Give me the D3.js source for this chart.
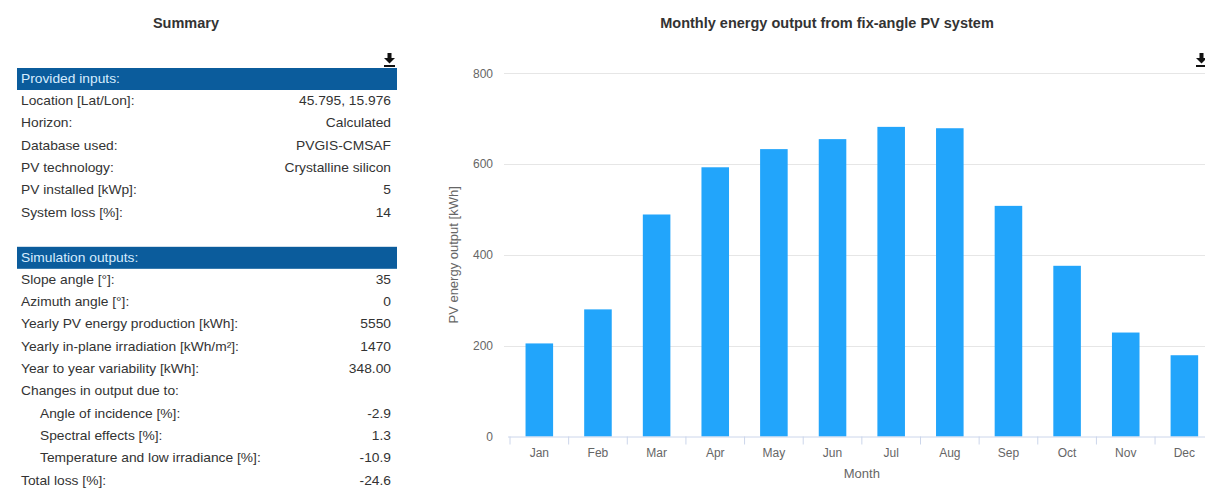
<!DOCTYPE html>
<html>
<head>
<meta charset="utf-8">
<script src="https://cdnjs.cloudflare.com/ajax/libs/d3/7.8.5/d3.min.js"></script>
<style>
  body { margin: 0; background: #fff; }
  text { font-family: "Liberation Sans", Arial, sans-serif; }
</style>
</head>
<body>
<div id="chart"></div>
<script>
// data
var months = ["Jan", "Feb", "Mar", "Apr", "May", "Jun", "Jul", "Aug", "Sep", "Oct", "Nov", "Dec"];
var energy = [205, 280, 489, 593, 633, 655, 682, 679, 508, 376, 229, 179];
var yTicks = [0, 200, 400, 600, 800];

var inputLabels = ["Location [Lat/Lon]:", "Horizon:", "Database used:", "PV technology:", "PV installed [kWp]:", "System loss [%]:"];
var inputValues = ["45.795, 15.976", "Calculated", "PVGIS-CMSAF", "Crystalline silicon", "5", "14"];

var outputLabels = ["Slope angle [\u00b0]:", "Azimuth angle [\u00b0]:", "Yearly PV energy production [kWh]:",
  "Yearly in-plane irradiation [kWh/m\u00b2]:", "Year to year variability [kWh]:", "Changes in output due to:",
  "Angle of incidence [%]:", "Spectral effects [%]:", "Temperature and low irradiance [%]:", "Total loss [%]:"];
var outputValues = ["35", "0", "5550", "1470", "348.00", "", "-2.9", "1.3", "-10.9", "-24.6"];
var outputIndent = [0, 0, 0, 0, 0, 0, 1, 1, 1, 0];

// canvas
var svgWidth = 1205;
var svgHeight = 491;

var svg = d3.select("#chart")
  .append("svg")
  .attr("width", svgWidth)
  .attr("height", svgHeight);

// text helper, glyphs in the picture are a bit wide for their height
function addText(x, y, str, size, opts) {
  opts = opts || {};
  return svg.append("text")
    .attr("transform", `translate(${x}, ${y}) scale(${opts.sx || 1}, 1)`)
    .attr("text-anchor", opts.anchor || "start")
    .attr("font-size", size)
    .attr("font-weight", opts.bold ? "bold" : "normal")
    .attr("fill", opts.fill || "#333")
    .text(str);
}

// ---------- summary table ----------
var tableLeft = 17, tableRight = 397;
var rowStep = 22.35;
var firstRow = 79;
var tableFont = 12, tableStretch = 1.15;

addText(186, 28, "Summary", 14.5, { anchor: "middle", bold: true });

function downloadIcon(x, y) {
  var g = svg.append("g").attr("transform", `translate(${x}, ${y})`);
  g.append("rect").attr("x", 3.5).attr("y", 0).attr("width", 4).attr("height", 6).attr("fill", "#111");
  g.append("path").attr("d", "M0,5 L11,5 L5.5,10.5 Z").attr("fill", "#111");
  g.append("rect").attr("x", 0).attr("y", 12).attr("width", 11).attr("height", 2).attr("fill", "#111");
}
downloadIcon(384, 53);

function headerBar(y, label) {
  svg.append("rect")
    .attr("x", tableLeft)
    .attr("y", y - 11)
    .attr("width", tableRight - tableLeft)
    .attr("height", 22)
    .attr("fill", "#0b5c9c");
  addText(tableLeft + 4, y + 4, label, tableFont, { sx: tableStretch, fill: "#d6ecff" });
}

function tableRows(labels, values, indent, startRow) {
  labels.forEach(function (label, i) {
    var y = firstRow + (startRow + i) * rowStep + 3.5;
    var x = tableLeft + 4 + (indent ? indent[i] * 19 : 0);
    addText(x, y, label, tableFont, { sx: tableStretch });
    addText(tableRight - 6, y, values[i], tableFont, { sx: tableStretch, anchor: "end" });
  });
}

headerBar(firstRow, "Provided inputs:");
tableRows(inputLabels, inputValues, null, 1);
headerBar(firstRow + 8 * rowStep, "Simulation outputs:");
tableRows(outputLabels, outputValues, outputIndent, 9);

// ---------- bar chart ----------
var plotLeft = 510, plotRight = 1213.7;
var plotTop = 73.3, plotBottom = 436.5;

addText(827, 28, "Monthly energy output from fix-angle PV system", 14.5, { anchor: "middle", bold: true });

downloadIcon(1196, 53);

var xScale = d3.scaleBand()
  .domain(months)
  .range([plotLeft, plotRight])
  .paddingInner(0.53)
  .paddingOuter(0.265);

var yScale = d3.scaleLinear()
  .domain([0, 800])
  .range([plotBottom, plotTop]);

// gridlines
svg.append("g")
  .selectAll("line")
  .data(yTicks.slice(1))
  .enter()
  .append("line")
  .attr("x1", 504)
  .attr("x2", svgWidth)
  .attr("y1", d => Math.round(yScale(d)) + 0.5)
  .attr("y2", d => Math.round(yScale(d)) + 0.5)
  .attr("stroke", "#e6e6e6")
  .attr("stroke-width", 1);

// y axis labels
var leftAxis = d3.axisLeft(yScale)
  .tickValues(yTicks)
  .tickSize(0)
  .tickPadding(0);

var yAxisG = svg.append("g")
  .attr("transform", `translate(493, 0)`)
  .call(leftAxis);
yAxisG.select(".domain").remove();
yAxisG.selectAll("text")
  .attr("font-family", "Liberation Sans, Arial, sans-serif")
  .attr("font-size", 12)
  .attr("fill", "#666");

// bars
svg.append("g")
  .selectAll("rect")
  .data(months)
  .enter()
  .append("rect")
  .attr("x", d => xScale(d))
  .attr("y", (d, i) => yScale(energy[i]))
  .attr("width", xScale.bandwidth())
  .attr("height", (d, i) => plotBottom - yScale(energy[i]))
  .attr("fill", "#22a5fb");

// x axis
var bottomAxis = d3.axisBottom(xScale)
  .tickSize(0)
  .tickPadding(12);

var xAxisG = svg.append("g")
  .attr("transform", `translate(0, ${plotBottom})`)
  .call(bottomAxis);
xAxisG.select(".domain")
  .attr("d", `M${plotLeft - 2},0.5H${svgWidth}`)
  .attr("stroke", "#ccd6eb");
xAxisG.selectAll("text")
  .attr("font-family", "Liberation Sans, Arial, sans-serif")
  .attr("font-size", 12)
  .attr("fill", "#666");

// tick marks between categories
svg.append("g")
  .selectAll("line")
  .data(months)
  .enter()
  .append("line")
  .attr("x1", d => xScale(d) - xScale.step() * 0.265)
  .attr("x2", d => xScale(d) - xScale.step() * 0.265)
  .attr("y1", plotBottom)
  .attr("y2", plotBottom + 8)
  .attr("stroke", "#ccd6eb");

// axis titles
svg.append("text")
  .attr("transform", `translate(458, ${(plotTop + plotBottom) / 2}) rotate(-90)`)
  .attr("text-anchor", "middle")
  .attr("font-size", 13)
  .attr("fill", "#666")
  .text("PV energy output [kWh]");

addText((plotLeft + plotRight) / 2, 478, "Month", 13, { anchor: "middle", fill: "#666" });
</script>
</body>
</html>
